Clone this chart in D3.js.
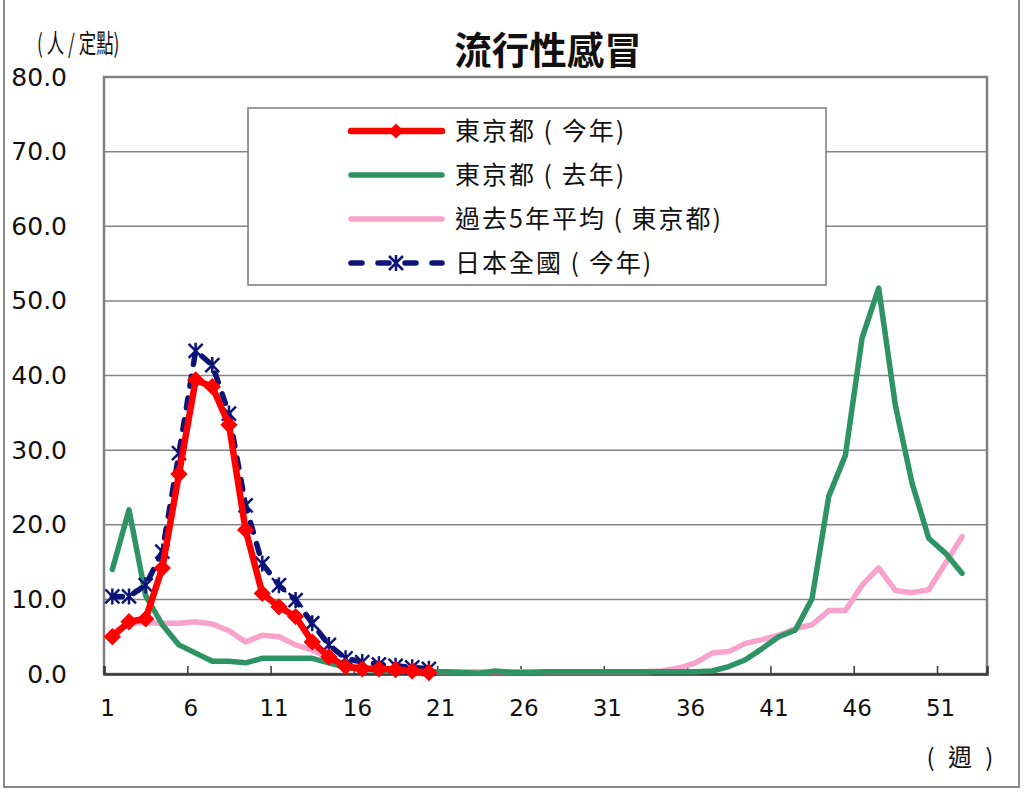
<!DOCTYPE html>
<html><head><meta charset="utf-8">
<script src="https://cdn.jsdelivr.net/npm/d3@7"></script>
<style>body{margin:0;background:#fff} svg{display:block} text{white-space:pre}</style>
</head><body>
<svg id="c" width="1024" height="794"></svg>
<script>
// ---- data ----
const weeks = d3.range(1, 53);
const tokyoThisYear = [5.0,7.0,7.4,14.2,26.8,39.4,38.5,33.4,19.3,10.8,9.0,7.7,4.3,2.3,1.0,0.7,0.7,0.6,0.4,0.2];
const tokyoLastYear = [14.0,22.0,10.5,6.6,3.9,2.8,1.7,1.7,1.5,2.1,2.1,2.1,2.1,1.5,0.9,0.6,0.5,0.4,0.3,0.3,
  0.3,0.2,0.1,0.4,0.2,0.2,0.3,0.3,0.3,0.3,0.3,0.3,0.3,0.3,0.3,0.3,0.4,1.0,1.9,3.4,
  5.0,5.9,10.1,23.8,29.3,45.0,51.7,36.0,25.6,18.2,16.2,13.5];
const tokyo5yrAvg = [5.5,6.8,6.9,6.8,6.8,7.0,6.7,5.8,4.3,5.2,5.0,3.9,3.2,2.1,1.3,0.8,0.5,0.4,0.4,0.3,
  0.3,0.3,0.3,0.3,0.3,0.3,0.3,0.3,0.3,0.3,0.3,0.3,0.3,0.4,0.8,1.5,2.8,3.0,4.1,4.6,
  5.2,6.1,6.6,8.5,8.5,11.9,14.2,11.2,10.9,11.3,14.8,18.4];
const japanThisYear = [10.4,10.4,11.9,16.4,29.6,43.3,41.4,34.9,22.6,14.8,11.9,9.9,6.8,3.9,2.1,1.6,1.3,1.1,0.9,0.7];
const seriesNames = ["東京都 ( 今年)", "東京都 ( 去年)", "過去5年平均 ( 東京都)", "日本全國 ( 今年)"];
const xTickLabels = [1,6,11,16,21,26,31,36,41,46,51];
const yTicks = [0,10,20,30,40,50,60,70,80];
const titleText = "流行性感冒";
const yUnit = "( 人 / 定點)";
const xUnit = "( 週 )";

// ---- layout ----
const svg = d3.select("#c");
const L = 104, R = 987, T = 77, B = 674;
const x = d3.scaleLinear().domain([0.5, 53.5]).range([L, R]);
const y = d3.scaleLinear().domain([0, 80]).range([B, T]);

// outer frame
svg.append("rect").attr("x", 4).attr("y", -2).attr("width", 1015).attr("height", 789)
  .attr("fill", "#fff").attr("stroke", "#8a8a8a").attr("stroke-width", 2);

// gridlines
svg.append("g").selectAll("line").data(yTicks.filter(d => d > 0 && d < 80)).join("line")
  .attr("x1", L).attr("x2", R).attr("y1", d => y(d)).attr("y2", d => y(d))
  .attr("stroke", "#858585").attr("stroke-width", 1.5);

// plot border
svg.append("rect").attr("x", L).attr("y", T).attr("width", R - L).attr("height", B - T)
  .attr("fill", "none").attr("stroke", "#808080").attr("stroke-width", 2.5);

// y axis
const yAxis = svg.append("g").attr("transform", `translate(${L},0)`)
  .call(d3.axisLeft(y).tickValues(yTicks).tickSize(0).tickPadding(37).tickFormat(d3.format(".1f")));
yAxis.select(".domain").remove();
yAxis.selectAll("text").attr("font-family", "DejaVu Sans").attr("font-size", 25).attr("fill", "#111");

// x axis
const xAxis = svg.append("g").attr("transform", `translate(0,${B})`)
  .call(d3.axisBottom(x).tickValues(xTickLabels.map(w => w - 0.5)).tickSize(-8).tickPadding(26)
    .tickFormat(d => String(d + 0.5)));
xAxis.select(".domain").attr("stroke", "#3a3a3a").attr("stroke-width", 2.5);
xAxis.selectAll(".tick line").attr("stroke", "#3a3a3a").attr("stroke-width", 1.5);
xAxis.selectAll("text").attr("font-family", "DejaVu Sans").attr("font-size", 23).attr("fill", "#111").attr("dx", 3);

// title & units
svg.append("text").attr("x", 548).attr("y", 64).attr("text-anchor", "middle")
  .attr("font-family", "Noto Sans CJK TC").attr("font-weight", "bold").attr("font-size", 37.5)
  .attr("fill", "#111").text(titleText);
svg.append("text").attr("transform", "translate(37,53) scale(0.67,1)")
  .attr("font-family", "Noto Sans CJK TC").attr("font-size", 26).attr("fill", "#111").text(yUnit);
svg.append("text").attr("x", 962).attr("y", 766).attr("text-anchor", "middle")
  .attr("font-family", "Noto Sans CJK TC").attr("font-size", 24).attr("letter-spacing", 4)
  .attr("fill", "#111").text(xUnit);

// series
const mk = arr => weeks.slice(0, arr.length).map((w, i) => ({ w, v: arr[i] }));
const line = d3.line().x(d => x(d.w)).y(d => y(d.v));
const series = [
  { name: seriesNames[0], data: mk(tokyoThisYear), color: "#ff0000", width: 6.5, marker: "diamond" },
  { name: seriesNames[1], data: mk(tokyoLastYear), color: "#2f9463", width: 5.5 },
  { name: seriesNames[2], data: mk(tokyo5yrAvg), color: "#f7a3cc", width: 5.5 },
  { name: seriesNames[3], data: mk(japanThisYear), color: "#0c1478", width: 5.5, dash: "10,12", marker: "star" }
];
const plot = svg.append("g");
const drawOrder = [2, 1, 3, 0];
const starPath = "M-7,-7L7,7M-7,7L7,-7M0,-8L0,8";
const diamond = d3.symbol(d3.symbolSquare, 115)();
drawOrder.forEach(i => {
  const s = series[i];
  plot.append("path").datum(s.data).attr("d", line).attr("fill", "none")
    .attr("stroke", s.color).attr("stroke-width", s.width)
    .attr("stroke-linejoin", "round").attr("stroke-linecap", "round")
    .attr("stroke-dasharray", s.dash || null);
  if (s.marker === "diamond") {
    plot.append("g").selectAll("path").data(s.data).join("path")
      .attr("transform", d => `translate(${x(d.w)},${y(d.v)}) rotate(45)`)
      .attr("d", diamond).attr("fill", s.color).attr("stroke", s.color).attr("stroke-width", 1.5);
  } else if (s.marker === "star") {
    plot.append("g").selectAll("path").data(s.data).join("path")
      .attr("transform", d => `translate(${x(d.w)},${y(d.v)})`)
      .attr("d", starPath).attr("fill", "none").attr("stroke", s.color).attr("stroke-width", 2.5);
  }
});

// legend
const lg = svg.append("g");
lg.append("rect").attr("x", 248).attr("y", 108).attr("width", 578).attr("height", 177)
  .attr("fill", "#fff").attr("stroke", "#7a7a7a").attr("stroke-width", 1.5);
series.forEach((s, i) => {
  const ly = 131 + i * 44;
  lg.append("line").attr("x1", 351).attr("x2", 442).attr("y1", ly).attr("y2", ly)
    .attr("stroke", s.color).attr("stroke-width", s.width).attr("stroke-linecap", "round")
    .attr("stroke-dasharray", s.dash ? "11,16" : null);
  if (s.marker === "diamond") {
    lg.append("path").attr("transform", `translate(396,${ly}) rotate(45)`).attr("d", diamond).attr("fill", s.color);
  } else if (s.marker === "star") {
    lg.append("path").attr("transform", `translate(396,${ly})`).attr("d", starPath)
      .attr("fill", "none").attr("stroke", s.color).attr("stroke-width", 2.5);
  }
  lg.append("text").attr("x", 455).attr("y", ly + 9).attr("font-family", "Noto Sans CJK TC")
    .attr("font-size", 25).attr("letter-spacing", 2).attr("fill", "#111").text(s.name);
});
</script>
</body></html>
